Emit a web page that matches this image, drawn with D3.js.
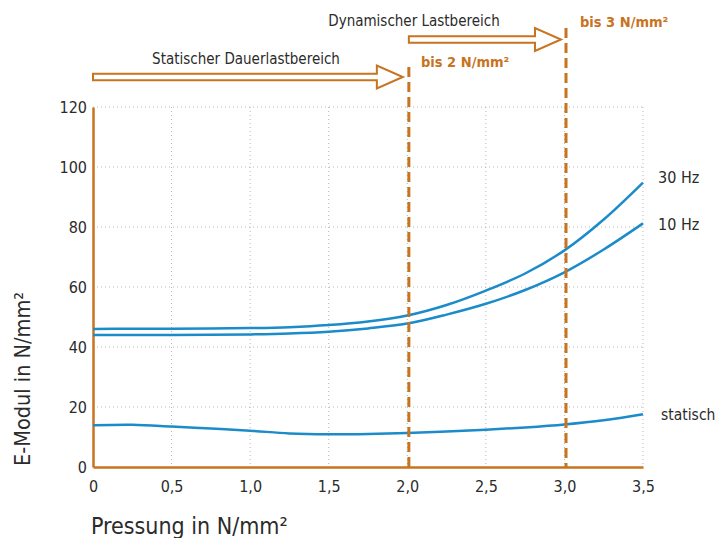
<!DOCTYPE html>
<html>
<head>
<meta charset="utf-8">
<script src="https://cdn.jsdelivr.net/npm/d3@7"></script>
<style>
  body { margin: 0; background: #fff; }
  text { font-family: "Liberation Sans Narrow", "DejaVu Sans Condensed", "Open Sans", sans-serif; fill: #2b2b2b; }
</style>
</head>
<body>
<div id="chart"></div>
<script>
// data
const pressure = [0, 0.25, 0.5, 0.75, 1.0, 1.25, 1.5, 1.75, 2.0, 2.25, 2.5, 2.75, 3.0, 3.25, 3.5];
const hz30 =     [46, 46.1, 46.1, 46.2, 46.3, 46.6, 47.3, 48.5, 50.5, 54, 58.8, 64.5, 72.2, 82.5, 94.8];
const hz10 =     [44, 44, 44, 44.1, 44.2, 44.5, 45.1, 46.2, 47.8, 50.8, 54.4, 59, 64.9, 72.5, 81.2];
const statisch = [13.9, 14.1, 13.5, 12.8, 12.1, 11.2, 10.9, 11.0, 11.3, 11.8, 12.4, 13.2, 14.2, 15.6, 17.6];
const xTicks = [0, 0.5, 1.0, 1.5, 2.0, 2.5, 3.0, 3.5];
const yTicks = [0, 20, 40, 60, 80, 100, 120];
const limits = [2.01, 3.01];

const width = 716, height = 538;
const orange = "#c8731f";
const blue = "#1b8bc9";

const svg = d3.select("#chart").append("svg")
  .attr("width", width)
  .attr("height", height);

const x = d3.scaleLinear().domain([0, 3.5]).range([93, 643]);
const y = d3.scaleLinear().domain([0, 120]).range([467, 107]);

// dotted grid
svg.append("g")
  .selectAll("line")
  .data(xTicks.slice(1))
  .enter().append("line")
    .attr("x1", d => x(d)).attr("x2", d => x(d))
    .attr("y1", y(120)).attr("y2", y(0))
    .attr("stroke", "#b5b5b5").attr("stroke-width", 1)
    .attr("stroke-dasharray", "1,3");
svg.append("g")
  .selectAll("line")
  .data(yTicks.slice(1))
  .enter().append("line")
    .attr("x1", x(0)).attr("x2", x(3.5))
    .attr("y1", d => y(d)).attr("y2", d => y(d))
    .attr("stroke", "#b5b5b5").attr("stroke-width", 1)
    .attr("stroke-dasharray", "1,3");

// axes (orange, no tick marks)
const xAxis = svg.append("g")
  .attr("transform", `translate(0,${y(0)})`)
  .call(d3.axisBottom(x).tickValues(xTicks).tickSize(0).tickPadding(14)
    .tickFormat(d => d === 0 ? "0" : d3.format(".1f")(d).replace(".", ",")));
const yAxis = svg.append("g")
  .attr("transform", `translate(${x(0)},0)`)
  .call(d3.axisLeft(y).tickValues(yTicks).tickSize(0).tickPadding(6));
[xAxis, yAxis].forEach(g => {
  g.select(".domain").attr("stroke", orange).attr("stroke-width", 2.5);
  g.selectAll("text").style("font-size", "16px").attr("fill", "#2b2b2b");
});

// curves
const line = d3.line()
  .x((d, i) => x(pressure[i]))
  .y(d => y(d))
  .curve(d3.curveCatmullRom);
[hz30, hz10, statisch].forEach(s => {
  svg.append("path")
    .attr("d", line(s))
    .attr("fill", "none")
    .attr("stroke", blue)
    .attr("stroke-width", 2.5);
});

// vertical limit lines
svg.append("line")
  .attr("x1", x(limits[0])).attr("x2", x(limits[0]))
  .attr("y1", 67).attr("y2", y(0))
  .attr("stroke", orange).attr("stroke-width", 3).attr("stroke-dasharray", "10,5");
svg.append("line")
  .attr("x1", x(limits[1])).attr("x2", x(limits[1]))
  .attr("y1", 28).attr("y2", y(0))
  .attr("stroke", orange).attr("stroke-width", 3).attr("stroke-dasharray", "10,5");

// hollow arrows
function arrow(x0, x1, cy) {
  const sh = 3.2, hh = 11.5, hl = 26;
  const pts = [[x0, cy - sh], [x1 - hl, cy - sh], [x1 - hl, cy - hh], [x1, cy],
               [x1 - hl, cy + hh], [x1 - hl, cy + sh], [x0, cy + sh]];
  svg.append("path")
    .attr("d", d3.line()(pts) + "Z")
    .attr("fill", "none")
    .attr("stroke", orange)
    .attr("stroke-width", 2);
}
arrow(x(0), x(limits[0]) - 6, 77);
arrow(x(limits[0]), x(limits[1]) - 5, 39.5);

// annotations
svg.append("text").attr("x", 246).attr("y", 64).attr("text-anchor", "middle")
  .style("font-size", "15px").text("Statischer Dauerlastbereich");
svg.append("text").attr("x", 414).attr("y", 26).attr("text-anchor", "middle")
  .style("font-size", "15px").text("Dynamischer Lastbereich");
svg.append("text").attr("x", 421).attr("y", 67)
  .style("font-size", "14.5px").style("font-weight", "bold").style("fill", orange)
  .text("bis 2 N/mm²");
svg.append("text").attr("x", 580).attr("y", 27)
  .style("font-size", "14.5px").style("font-weight", "bold").style("fill", orange)
  .text("bis 3 N/mm²");

// series labels
svg.append("text").attr("x", 658).attr("y", 183).style("font-size", "16px").text("30 Hz");
svg.append("text").attr("x", 658).attr("y", 230).style("font-size", "16px").text("10 Hz");
svg.append("text").attr("x", 661).attr("y", 420).style("font-size", "15.5px").text("statisch");

// axis titles
svg.append("text").attr("x", 91).attr("y", 534)
  .style("font-size", "23px").text("Pressung in N/mm²");
svg.append("text")
  .attr("transform", "translate(30,379) rotate(-90)")
  .attr("text-anchor", "middle")
  .style("font-size", "21.5px").text("E-Modul in N/mm²");
</script>
</body>
</html>
